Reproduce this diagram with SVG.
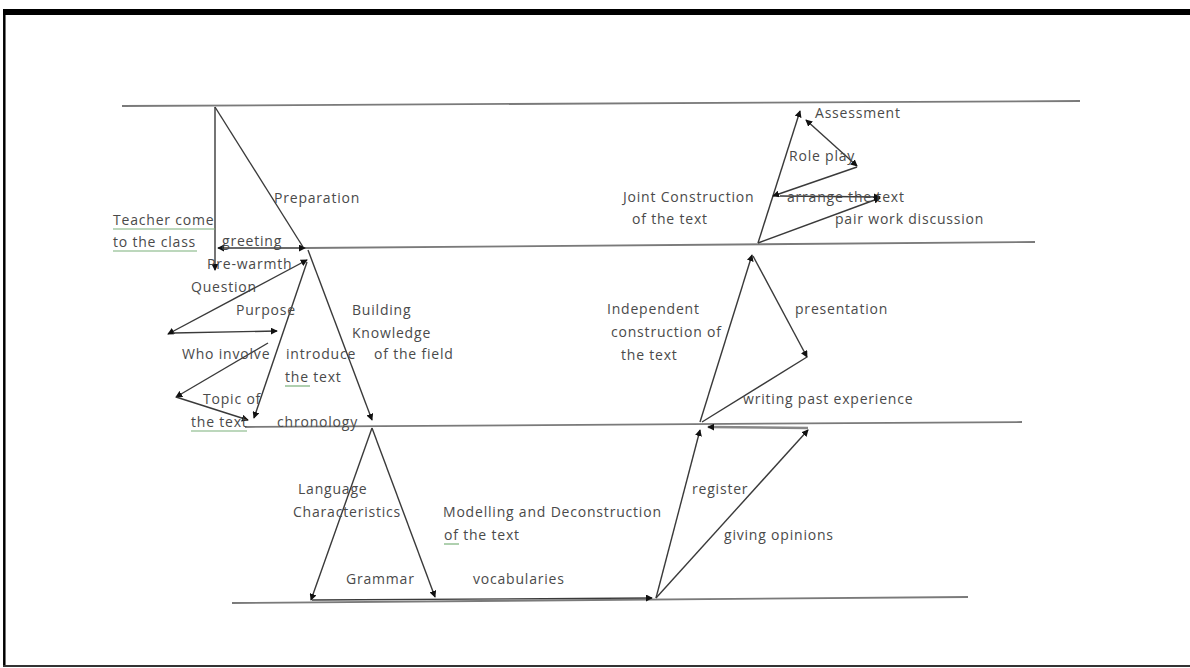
<svg xmlns="http://www.w3.org/2000/svg" width="1190" height="668" viewBox="0 0 1190 668">
<style>
  .lbl { font-family: "Open Sans", "Liberation Sans", sans-serif; font-size: 14px; letter-spacing: 0.8px; fill: #4a4a4a; }
  .hl { stroke: #7a7a7a; stroke-width: 1.8; fill: none; }
  .ln { stroke: #3a3a3a; stroke-width: 1.4; fill: none; }
  .ar { marker-end: url(#ah); }
  .ab { marker-start: url(#ah); marker-end: url(#ah); }
  .ul { stroke: #7ab07a; stroke-width: 1.2; }
</style>
<defs>
  <marker id="ah" viewBox="0 0 8 8" refX="7" refY="4" markerWidth="7" markerHeight="7" markerUnits="userSpaceOnUse" orient="auto-start-reverse">
    <path d="M0,0 L8,4 L0,8 z" fill="#111"/>
  </marker>
</defs>
<rect width="1190" height="668" fill="#fff"/>
<g id="frame">
  <line x1="3" y1="12" x2="1190" y2="12" stroke="#000" stroke-width="6"/>
  <line x1="4.3" y1="10" x2="4.3" y2="667" stroke="#000" stroke-width="2.5"/>
  <line x1="3" y1="666" x2="1190" y2="666" stroke="#333" stroke-width="2"/>
</g>
<g id="connectors">
  <line class="hl" x1="122" y1="106" x2="1080" y2="101"/>
  <line class="hl" x1="305" y1="248" x2="1035" y2="242"/>
  <line class="hl" x1="245" y1="427" x2="1022" y2="422"/>
  <line class="hl" x1="232" y1="603" x2="968" y2="597"/>
  <line class="ln ar" x1="215" y1="107" x2="215" y2="270"/>
  <line class="ln" x1="215" y1="107" x2="303" y2="247"/>
  <line class="ln ab" x1="218" y1="248" x2="305" y2="248"/>
  <line class="ln ar" x1="308" y1="250" x2="372" y2="420"/>
  <line class="ln ab" x1="307" y1="260" x2="168" y2="334"/>
  <line class="ln ar" x1="173" y1="333" x2="277" y2="331"/>
  <line class="ln ar" x1="307" y1="262" x2="254" y2="418"/>
  <line class="ln ar" x1="268" y1="343" x2="176" y2="397"/>
  <line class="ln ar" x1="176" y1="397" x2="248" y2="420"/>
  <line class="ln ar" x1="372" y1="428" x2="311" y2="600"/>
  <line class="ln ar" x1="372" y1="428" x2="435" y2="597"/>
  <line class="ln ar" x1="312" y1="600" x2="652" y2="598" stroke-width="2.4"/>
  <line class="ln ar" x1="656" y1="598" x2="700" y2="430"/>
  <line class="ln ar" x1="656" y1="598" x2="808" y2="430"/>
  <line class="ar" x1="808" y1="428" x2="708" y2="427" stroke="#888" stroke-width="2.4"/>
  <line class="ln ar" x1="700" y1="422" x2="752" y2="255"/>
  <line class="ln ar" x1="753" y1="256" x2="807" y2="357"/>
  <line class="ln" x1="702" y1="422" x2="807" y2="357"/>
  <line class="ln ar" x1="758" y1="243" x2="800" y2="111"/>
  <line class="ln ab" x1="806" y1="120" x2="857" y2="166"/>
  <line class="ln ar" x1="857" y1="167" x2="773" y2="196"/>
  <line class="ln ar" x1="780" y1="196" x2="880" y2="197"/>
  <line class="ln ar" x1="758" y1="243" x2="880" y2="198"/>
</g>
<g id="n-preparation"><text class="lbl" x="274" y="203">Preparation</text></g>
<g id="n-teacher">
  <text class="lbl" x="113" y="225">Teacher come</text>
  <text class="lbl" x="113" y="247">to the class</text>
  <line class="ul" x1="113" y1="229" x2="215" y2="229"/>
  <line class="ul" x1="113" y1="251" x2="197" y2="251"/>
</g>
<g id="n-greeting"><text class="lbl" x="222" y="246">greeting</text></g>
<g id="n-prewarmth"><text class="lbl" x="207" y="269">Pre-warmth</text></g>
<g id="n-question"><text class="lbl" x="191" y="292">Question</text></g>
<g id="n-purpose"><text class="lbl" x="236" y="315">Purpose</text></g>
<g id="n-bkf">
  <text class="lbl" x="352" y="315">Building</text>
  <text class="lbl" x="352" y="338">Knowledge</text>
  <text class="lbl" x="374" y="359">of the field</text>
</g>
<g id="n-who"><text class="lbl" x="182" y="359">Who involve</text></g>
<g id="n-introduce">
  <text class="lbl" x="286" y="359">introduce</text>
  <text class="lbl" x="285" y="382">the text</text>
  <line class="ul" x1="285" y1="386" x2="310" y2="386"/>
</g>
<g id="n-topic">
  <text class="lbl" x="203" y="404">Topic of</text>
  <text class="lbl" x="191" y="427">the text</text>
  <line class="ul" x1="191" y1="431" x2="247" y2="431"/>
</g>
<g id="n-chronology"><text class="lbl" x="277" y="427">chronology</text></g>
<g id="n-language">
  <text class="lbl" x="298" y="494">Language</text>
  <text class="lbl" x="293" y="517">Characteristics</text>
</g>
<g id="n-modelling">
  <text class="lbl" x="443" y="517">Modelling and Deconstruction</text>
  <text class="lbl" x="444" y="540">of the text</text>
  <line class="ul" x1="444" y1="544" x2="459" y2="544"/>
</g>
<g id="n-grammar"><text class="lbl" x="346" y="584">Grammar</text></g>
<g id="n-vocab"><text class="lbl" x="473" y="584">vocabularies</text></g>
<g id="n-register"><text class="lbl" x="692" y="494">register</text></g>
<g id="n-opinions"><text class="lbl" x="724" y="540">giving opinions</text></g>
<g id="n-independent">
  <text class="lbl" x="607" y="314">Independent</text>
  <text class="lbl" x="611" y="337">construction of</text>
  <text class="lbl" x="621" y="360">the text</text>
</g>
<g id="n-presentation"><text class="lbl" x="795" y="314">presentation</text></g>
<g id="n-writing"><text class="lbl" x="743" y="404">writing past experience</text></g>
<g id="n-joint">
  <text class="lbl" x="623" y="202">Joint Construction</text>
  <text class="lbl" x="632" y="224">of the text</text>
</g>
<g id="n-arrange"><text class="lbl" x="787" y="202">arrange the text</text></g>
<g id="n-pair"><text class="lbl" x="835" y="224">pair work discussion</text></g>
<g id="n-roleplay"><text class="lbl" x="789" y="161">Role play</text></g>
<g id="n-assessment"><text class="lbl" x="815" y="118">Assessment</text></g>
</svg>
